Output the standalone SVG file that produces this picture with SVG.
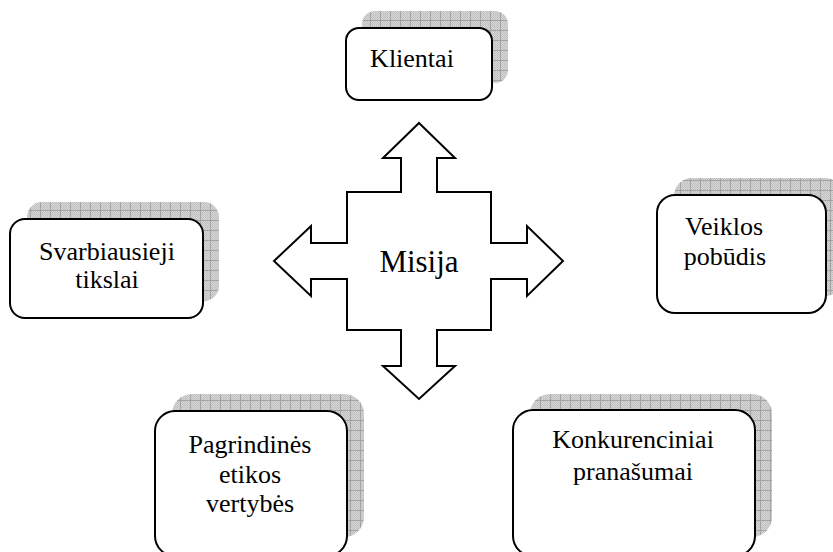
<svg xmlns="http://www.w3.org/2000/svg" width="833" height="552" viewBox="0 0 833 552">
  <defs>
    <!-- fine stipple under a 10px grid, used for the drop shadows -->
    <pattern id="stipple" width="2" height="2" patternUnits="userSpaceOnUse">
      <rect width="2" height="2" fill="#d6d6d6"/>
      <rect width="1" height="1" fill="#c0c0c0"/>
      <rect x="1" y="1" width="1" height="1" fill="#c0c0c0"/>
    </pattern>
    <pattern id="gridShade" width="10" height="10" patternUnits="userSpaceOnUse">
      <rect width="10" height="10" fill="url(#stipple)"/>
      <path d="M0 0.5H10M0.5 0V10" stroke="#a4a4a4" stroke-width="1" fill="none"/>
    </pattern>
  </defs>
  <style>
    .shadow { fill: url(#gridShade); stroke: none; }
    .box { fill: #ffffff; stroke: #000000; stroke-width: 2; }
    .arrow { fill: #ffffff; stroke: #000000; stroke-width: 2; stroke-linejoin: miter; }
    text { fill: #000000; text-anchor: middle; }
  </style>

  <rect width="833" height="552" fill="#ffffff"/>

  <!-- central four-way arrow -->
  <g id="misija">
    <path class="arrow" d="M419 123 L455 158 L437 158 L437 192 L491 192 L491 243 L527 243 L527 226 L563 261 L527 296 L527 279 L491 279 L491 330 L437 330 L437 366 L455 366 L419 399 L383 366 L401 366 L401 330 L347 330 L347 279 L311 279 L311 296 L274 261 L311 226 L311 243 L347 243 L347 192 L401 192 L401 158 L383 158 Z"/>
    <text x="419" y="272" font-family="Liberation Serif, DejaVu Serif, serif" font-size="31">Misija</text>
  </g>

  <g id="connectors"></g>

  <g font-family="Liberation Serif, DejaVu Serif, serif" font-size="26">
    <g id="klientai">
      <rect class="shadow" x="362" y="11" width="146" height="72" rx="13"/>
      <rect class="box" x="346" y="28" width="146" height="72" rx="13"/>
      <text x="412" y="67">Klientai</text>
    </g>

    <g id="svarbiausieji-tikslai">
      <rect class="shadow" x="27" y="202" width="192" height="99" rx="15"/>
      <rect class="box" x="10" y="219" width="193" height="99" rx="15"/>
      <text x="107" y="260">Svarbiausieji</text>
      <text x="107" y="288">tikslai</text>
    </g>

    <g id="veiklos-pobudis">
      <rect class="shadow" x="674" y="178" width="169" height="118" rx="18"/>
      <rect class="box" x="657" y="195" width="169" height="118" rx="18"/>
      <text x="724" y="235">Veiklos</text>
      <text x="725" y="265">pobūdis</text>
    </g>

    <g id="pagrindines-etikos-vertybes">
      <rect class="shadow" x="172" y="394" width="192" height="143" rx="20"/>
      <rect class="box" x="155" y="411" width="192" height="145" rx="20"/>
      <text x="250" y="453">Pagrindinės</text>
      <text x="250" y="483">etikos</text>
      <text x="250" y="512">vertybės</text>
    </g>

    <g id="konkurenciniai-pranasumai">
      <rect class="shadow" x="530" y="394" width="242" height="143" rx="20"/>
      <rect class="box" x="513" y="410" width="242" height="146" rx="20"/>
      <text x="633" y="448">Konkurenciniai</text>
      <text x="633" y="480">pranašumai</text>
    </g>
  </g>
</svg>
